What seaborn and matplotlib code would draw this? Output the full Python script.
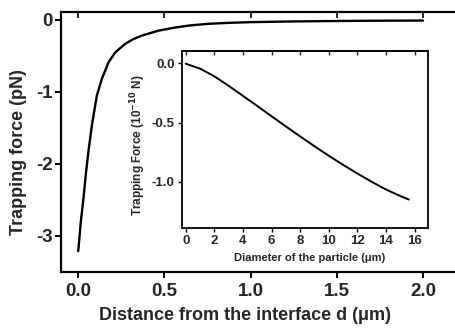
import matplotlib
matplotlib.use("Agg")
import matplotlib.pyplot as plt
import seaborn as sns
import pandas as pd

# Main curve: trapping force vs distance
distance = [0.0, 0.015, 0.031, 0.045, 0.06, 0.08, 0.108, 0.137, 0.176, 0.215, 0.272, 0.32, 0.369, 0.466, 0.562, 0.65, 0.75, 0.87, 1.0, 1.25, 1.5, 1.75, 2.0]
force = [-3.21, -2.80, -2.46, -2.12, -1.81, -1.45, -1.05, -0.817, -0.587, -0.449, -0.332, -0.265, -0.217, -0.148, -0.105, -0.075, -0.054, -0.04, -0.03, -0.02, -0.014, -0.01, -0.008]

# Inset: trapping force vs particle diameter
diameter = [0.0, 1.0, 2.0, 3.0, 4.0, 5.0, 6.0, 7.0, 8.0, 9.0, 10.0, 11.0, 12.0, 13.0, 14.0, 15.0, 15.6]
inset_force = [-0.004, -0.045, -0.11, -0.19, -0.275, -0.36, -0.447, -0.533, -0.617, -0.70, -0.78, -0.857, -0.93, -1.0, -1.065, -1.12, -1.15]

main_xticks = [0.0, 0.5, 1.0, 1.5, 2.0]
main_yticks = [0, -1, -2, -3]
inset_xticks = [0, 2, 4, 6, 8, 10, 12, 14, 16]
inset_yticks = [0.0, -0.5, -1.0]

sns.set_theme(style="ticks")
plt.rcParams['font.family'] = ['Liberation Sans', 'DejaVu Sans']
plt.rcParams['font.weight'] = 'bold'
plt.rcParams['axes.labelweight'] = 'bold'
plt.rcParams['axes.unicode_minus'] = False
plt.rcParams['mathtext.default'] = 'bf'

fig = plt.figure(figsize=(4.55, 3.28), dpi=100)
ax = fig.add_axes([61/455, 1-272/328, 396.5/455, (272-11.7)/328])

df_main = pd.DataFrame({"d": distance, "F": force})
sns.lineplot(data=df_main, x="d", y="F", ax=ax, color="black", linewidth=1.7)
ax.set_xlim(-0.1, 2.2)
ax.set_ylim(-3.5, 0.115)
ax.set_xticks(main_xticks)
ax.set_xticklabels([f"{v:.1f}" for v in main_xticks])
ax.set_yticks(main_yticks)
ax.set_yticklabels([str(v) for v in main_yticks])
ax.set_xlabel("Distance from the interface d (μm)", fontsize=13, fontweight='bold')
ax.set_ylabel("Trapping force (pN)", fontsize=13, fontweight='bold')
ax.xaxis.set_label_coords(0.465, -0.135)
ax.yaxis.set_label_coords(-0.086, 0.46)
for s in ax.spines.values():
    s.set_linewidth(1.6)
    s.set_color("black")
ax.spines['right'].set_visible(False)
ax.tick_params(axis='both', labelsize=13.5, width=1.4, length=4, color='black', direction='out')
ax.tick_params(axis='x', pad=4)
ax.tick_params(axis='y', pad=2)
for lab in ax.get_xticklabels() + ax.get_yticklabels():
    lab.set_fontweight('bold')
sec = ax.secondary_xaxis('top')
sec.set_xticks(main_xticks)
sec.set_xticklabels([])
sec.tick_params(direction='in', length=4, width=1.4)
sec.spines['top'].set_visible(False)

# Inset
ins = fig.add_axes([181.7/455, 1-228/328, (428-181.7)/455, (228-50.7)/328])
df_in = pd.DataFrame({"D": diameter, "F": inset_force})
sns.lineplot(data=df_in, x="D", y="F", ax=ins, color="black", linewidth=1.4)
ins.set_xlim(-0.28, 16.94)
ins.set_ylim(-1.39, 0.106)
ins.set_xticks(inset_xticks)
ins.set_xticklabels([str(v) for v in inset_xticks])
ins.set_yticks(inset_yticks)
ins.set_yticklabels([f"{v:.1f}" for v in inset_yticks])
ins.set_xlabel("Diameter of the particle (μm)", fontsize=8, fontweight='bold')
ins.set_ylabel("Trapping Force (10$^{-10}$ N)", fontsize=8.5, fontweight='bold')
ins.xaxis.set_label_coords(0.52, -0.14)
ins.yaxis.set_label_coords(-0.135, 0.47)
for s in ins.spines.values():
    s.set_linewidth(1.3)
    s.set_color("black")
ins.tick_params(axis='both', labelsize=9.5, width=1.0, length=3, color='black', direction='out', pad=2)
for lab in ins.get_xticklabels() + ins.get_yticklabels():
    lab.set_fontweight('bold')
sec2 = ins.secondary_xaxis('top')
sec2.set_xticks(inset_xticks)
sec2.set_xticklabels([])
sec2.tick_params(direction='in', length=3, width=1.0)

fig.savefig("out.png", dpi=100)
